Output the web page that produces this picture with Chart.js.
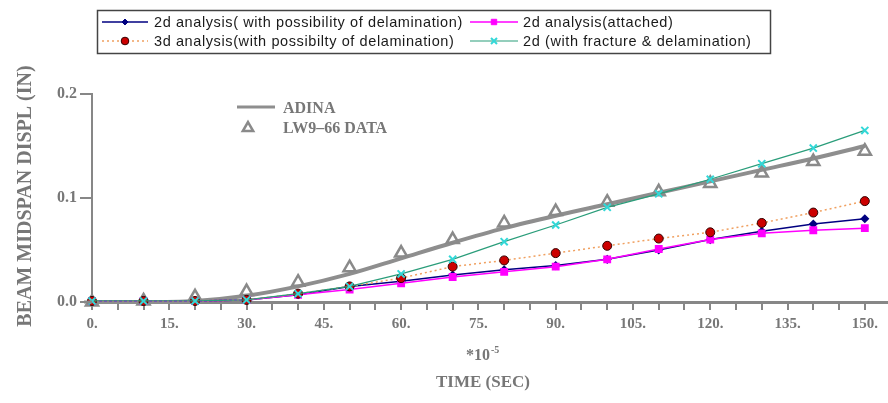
<!DOCTYPE html>
<html>
<head>
<meta charset="utf-8">
<script src="https://cdn.jsdelivr.net/npm/chart.js@4.4.1/dist/chart.umd.min.js"></script>
<style>
  html, body { margin: 0; padding: 0; background: #fff; }
  #wrap { width: 888px; height: 403px; }
</style>
</head>
<body>
<div id="wrap"><canvas id="chart" width="888" height="403"></canvas></div>
<script>
// time axis (*10^-5 s)
const times = [0, 10, 20, 30, 40, 50, 60, 70, 80, 90, 100, 110, 120, 130, 140, 150];
const xTickLabels = ["0.", "15.", "30.", "45.", "60.", "75.", "90.", "105.", "120.", "135.", "150."];
const yTickLabels = ["0.0", "0.1", "0.2"];

// scanned ADINA curve + LW9-66 test data
const adina = [0, 0, 0.001, 0.006, 0.015, 0.027, 0.042, 0.057, 0.071, 0.083, 0.094, 0.105, 0.116, 0.127, 0.138, 0.150];
const lw966 = [0, 0.001, 0.005, 0.010, 0.019, 0.033, 0.047, 0.060, 0.076, 0.087, 0.096, 0.106, 0.114, 0.124, 0.135, 0.145];

// overlaid analyses
const twoDPossible = [0.001, 0.001, 0.001, 0.002, 0.007, 0.015, 0.020, 0.026, 0.031, 0.035, 0.041, 0.050, 0.060, 0.068, 0.075, 0.080];
const twoDAttached = [0.001, 0.001, 0.001, 0.002, 0.007, 0.012, 0.018, 0.024, 0.029, 0.034, 0.041, 0.051, 0.060, 0.066, 0.069, 0.071];
const threeDPossible = [0.001, 0.001, 0.001, 0.002, 0.008, 0.015, 0.023, 0.034, 0.040, 0.047, 0.054, 0.061, 0.067, 0.076, 0.086, 0.097];
const twoDFracture = [0.001, 0.001, 0.001, 0.002, 0.008, 0.015, 0.027, 0.041, 0.058, 0.074, 0.091, 0.104, 0.118, 0.133, 0.148, 0.165];

const labels = [
    "2d analysis( with possibility of delamination)",
    "2d analysis(attached)",
    "3d analysis(with possibilty of delamination)",
    "2d (with fracture & delamination)"
];

const GRAY = "#878787";
const GRAY_TXT = "#777777";
const SERIF = '"Liberation Serif", "DejaVu Serif", serif';

function pts(arr) {
    return times.map((t, i) => ({ x: t, y: arr[i] }));
}

const datasets = [
    { label: "ADINA", data: pts(adina), borderColor: "#8e8e8e", borderWidth: 4, pointRadius: 0,
      cubicInterpolationMode: "monotone", order: 10 },
    { label: "LW9-66 DATA", data: pts(lw966), showLine: false, pointStyle: "triangle", pointRadius: 7,
      pointBorderWidth: 2.5, pointBorderColor: "#8a8a8a", pointBackgroundColor: "rgba(255,255,255,0)", order: 9 },
    { label: labels[0], data: pts(twoDPossible), borderColor: "#000080", borderWidth: 1.5,
      pointStyle: "rectRot", pointRadius: 3.5, pointBackgroundColor: "#000080", pointBorderColor: "#000080", order: 4 },
    { label: labels[1], data: pts(twoDAttached), borderColor: "#ff00ff", borderWidth: 1.5,
      pointStyle: "rect", pointRadius: 4.5, pointBackgroundColor: "#ff00ff", pointBorderColor: "#ff00ff", order: 3 },
    { label: labels[2], data: pts(threeDPossible), borderColor: "#f0a060", borderWidth: 1.5, borderDash: [2, 3],
      pointStyle: "circle", pointRadius: 4.5, pointBackgroundColor: "#cc0000", pointBorderColor: "#330000",
      pointBorderWidth: 1, order: 2 },
    { label: labels[3], data: pts(twoDFracture), borderColor: "#2a9d7a", borderWidth: 1.2,
      pointStyle: "crossRot", pointRadius: 5, pointBorderColor: "#33d8d8", pointBorderWidth: 2, order: 1 }
];
datasets.forEach(d => { d.clip = false; d.tension = d.tension || 0; });

function drawSample(ctx, ds, x1, x2, y) {
    ctx.save();
    ctx.strokeStyle = ds.borderColor;
    ctx.lineWidth = ds.borderWidth;
    ctx.setLineDash(ds.borderDash || []);
    ctx.beginPath(); ctx.moveTo(x1, y); ctx.lineTo(x2, y); ctx.stroke();
    ctx.setLineDash([]);
    ctx.fillStyle = ds.pointBackgroundColor || ds.borderColor;
    ctx.strokeStyle = ds.pointBorderColor || ds.borderColor;
    ctx.lineWidth = ds.pointBorderWidth || 1;
    Chart.helpers.drawPoint(ctx, { pointStyle: ds.pointStyle, radius: ds.pointRadius * 0.85, rotation: 0,
        borderWidth: ds.pointBorderWidth || 1 }, (x1 + x2) / 2, y);
    ctx.restore();
}

const overlay = {
    id: "overlay",
    afterDraw(chart) {
        const ctx = chart.ctx;
        const ds = chart.data.datasets;
        const area = chart.chartArea;
        ctx.save();

        // x axis stub left of the y axis, as in the scan
        ctx.strokeStyle = GRAY;
        ctx.lineWidth = 3;
        ctx.beginPath(); ctx.moveTo(84, area.bottom); ctx.lineTo(area.left, area.bottom); ctx.stroke();

        // top legend box
        ctx.strokeStyle = "#444";
        ctx.lineWidth = 1.5;
        ctx.strokeRect(97.5, 10.5, 673, 43);
        ctx.font = '14.5px "Liberation Sans", Arial, sans-serif';
        ctx.letterSpacing = "0.6px";
        ctx.fillStyle = "#1a1a1a";
        ctx.textBaseline = "middle";
        ctx.textAlign = "left";
        const rows = [22, 41];
        const cols = [[102, 148, 154], [470, 518, 523]];
        [[2, 3], [4, 5]].forEach((pair, r) => {
            pair.forEach((di, c) => {
                drawSample(ctx, ds[di], cols[c][0], cols[c][1], rows[r]);
                ctx.fillText(ds[di].label, cols[c][2], rows[r] + 1);
            });
        });
        ctx.letterSpacing = "0px";

        // ADINA / LW9-66 key inside plot
        ctx.strokeStyle = "#8e8e8e";
        ctx.lineWidth = 3;
        ctx.beginPath(); ctx.moveTo(237, 107); ctx.lineTo(275, 107); ctx.stroke();
        ctx.strokeStyle = "#8a8a8a";
        ctx.fillStyle = "#ffffff";
        ctx.lineWidth = 2.5;
        Chart.helpers.drawPoint(ctx, { pointStyle: "triangle", radius: 6, rotation: 0, borderWidth: 2.5 }, 248, 128);
        ctx.fillStyle = GRAY_TXT;
        ctx.font = "bold 16px " + SERIF;
        ctx.fillText("ADINA", 283, 109);
        ctx.fillText("LW9\u201366 DATA", 283, 129);

        // axis titles
        ctx.textAlign = "center";
        ctx.font = "bold 20px " + SERIF;
        ctx.save();
        ctx.translate(26, 196);
        ctx.rotate(-Math.PI / 2);
        ctx.fillText("BEAM MIDSPAN DISPL (IN)", 0, 0);
        ctx.restore();

        ctx.font = "bold 16px " + SERIF;
        ctx.fillText("*10", 478, 356);
        ctx.font = "bold 10px " + SERIF;
        ctx.textAlign = "left";
        ctx.fillText("-5", 491, 350);
        ctx.textAlign = "center";
        ctx.font = "bold 17px " + SERIF;
        ctx.fillText("TIME (SEC)", 483, 383);
        ctx.restore();
    }
};

new Chart(document.getElementById("chart"), {
    type: "line",
    data: { datasets },
    options: {
        responsive: false,
        animation: false,
        devicePixelRatio: 1,
        layout: { autoPadding: false, padding: { top: 94, left: 0, right: 0, bottom: 0 } },
        plugins: { legend: { display: false }, tooltip: { enabled: false } },
        scales: {
            x: {
                type: "linear", min: 0, max: 154.5,
                afterFit: s => { s.height = 101; },
                afterBuildTicks: s => {
                    const t = [];
                    for (let v = 0; v <= 150; v += 5) t.push({ value: v });
                    s.ticks = t;
                },
                ticks: {
                    autoSkip: false, maxRotation: 0, padding: 5,
                    color: GRAY_TXT, font: { family: SERIF, size: 15, weight: "bold" },
                    callback: v => (v % 15 === 0 ? xTickLabels[v / 15] : "")
                },
                grid: { drawOnChartArea: false, drawTicks: true, tickLength: 8, color: GRAY, lineWidth: 2 },
                border: { display: true, color: GRAY, width: 3 }
            },
            y: {
                type: "linear", min: 0, max: 0.2,
                afterFit: s => { s.width = 92; },
                afterBuildTicks: s => { s.ticks = [0, 0.1, 0.2].map(v => ({ value: v })); },
                ticks: {
                    padding: 3, color: GRAY_TXT, font: { family: SERIF, size: 16, weight: "bold" },
                    callback: (v, i) => yTickLabels[i]
                },
                grid: { drawOnChartArea: false, drawTicks: true, tickLength: 12, color: GRAY, lineWidth: 2 },
                border: { display: true, color: GRAY, width: 2 }
            }
        }
    },
    plugins: [overlay]
});
</script>
</body>
</html>
